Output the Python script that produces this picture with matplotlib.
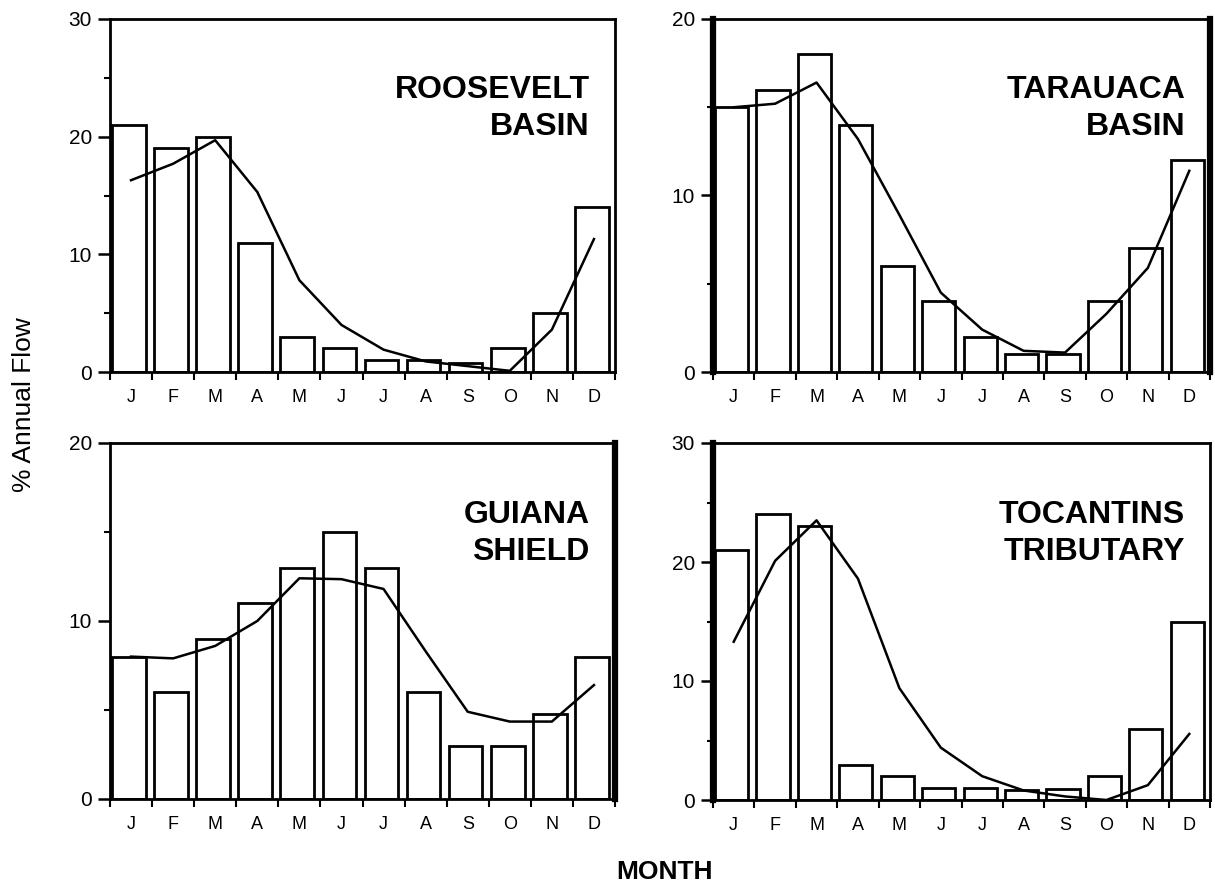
import numpy as np
import matplotlib
matplotlib.use("Agg")
import matplotlib.pyplot as plt

plt.rcParams["font.family"] = ["Liberation Sans", "DejaVu Sans"]

months = ["J", "F", "M", "A", "M", "J", "J", "A", "S", "O", "N", "D"]

# Monthly share of annual flow (%): observed bars and model curve
roosevelt_obs = [21, 19, 20, 11, 3, 2, 1, 1, 0.8, 2, 5, 14]
roosevelt_fit = [16.3, 17.7, 19.7, 15.3, 7.8, 4.0, 1.9, 0.9, 0.5, 0.1, 3.6, 11.3]

tarauaca_obs = [15, 16, 18, 14, 6, 4, 2, 1, 1, 4, 7, 12]
tarauaca_fit = [15.0, 15.2, 16.4, 13.2, 8.9, 4.5, 2.4, 1.2, 1.1, 3.3, 5.9, 11.4]

guiana_obs = [8, 6, 9, 11, 13, 15, 13, 6, 3, 3, 4.8, 8]
guiana_fit = [8.0, 7.9, 8.6, 10.0, 12.4, 12.35, 11.8, 8.3, 4.9, 4.35, 4.35, 6.4]

tocantins_obs = [21, 24, 23, 2.9, 2, 1, 1, 0.85, 0.9, 2, 6, 15]
tocantins_fit = [13.3, 20.1, 23.5, 18.6, 9.4, 4.4, 2.0, 0.8, 0.3, 0.0, 1.25, 5.55]

panels = [
    ("ROOSEVELT\nBASIN", roosevelt_obs, roosevelt_fit, 30, (110, 19, 615, 372)),
    ("TARAUACA\nBASIN", tarauaca_obs, tarauaca_fit, 20, (713, 19, 1210, 372)),
    ("GUIANA\nSHIELD", guiana_obs, guiana_fit, 20, (110, 443, 615, 799)),
    ("TOCANTINS\nTRIBUTARY", tocantins_obs, tocantins_fit, 30, (713, 443, 1210, 800)),
]

W, H = 1215, 883
fig = plt.figure(figsize=(W / 100, H / 100), dpi=100)
fig.patch.set_facecolor("white")

thick_spines = {1: ("left", "right"), 2: ("right",), 3: ("left",)}

for idx, (title, obs, fit, ymax, (x0, y0, x1, y1)) in enumerate(panels):
    ax = fig.add_axes([x0 / W, 1 - y1 / H, (x1 - x0) / W, (y1 - y0) / H])
    x = np.arange(12)
    ax.bar(x - 0.05, obs, width=0.8, facecolor="white", edgecolor="black",
           linewidth=2.0, zorder=2)
    ax.plot(x, fit, color="black", linewidth=1.8, zorder=3)

    ax.set_xlim(-0.5, 11.5)
    ax.set_ylim(0, ymax)

    # month boundaries get tick marks, month centres get the labels
    ax.set_xticks(np.arange(-0.5, 12, 1))
    ax.set_xticklabels([])
    ax.set_xticks(x, minor=True)
    ax.set_xticklabels(months, minor=True, fontsize=13)
    ax.tick_params(axis="x", which="major", direction="out", length=6, width=1.5)
    ax.tick_params(axis="x", which="minor", length=0, pad=12)

    ax.set_yticks(np.arange(0, ymax + 1, 10))
    ax.set_yticks(np.arange(5, ymax, 10), minor=True)
    ax.tick_params(axis="y", which="major", direction="out", length=9, width=1.8,
                   labelsize=15, pad=4)
    ax.tick_params(axis="y", which="minor", direction="out", length=4, width=1.5)

    for name, sp in ax.spines.items():
        sp.set_linewidth(2.0)
    for name in thick_spines.get(idx, ()):
        ax.spines[name].set_linewidth(4.5)

    ax.text(0.95, 0.84, title, transform=ax.transAxes, ha="right", va="top",
            fontsize=23, fontweight="bold", linespacing=1.3, zorder=4)

fig.text(24 / W, 1 - 405 / H, "% Annual Flow", rotation=90, ha="center",
         va="center", fontsize=19)
fig.text(664 / W, 1 - 872 / H, "MONTH", ha="center", va="center",
         fontsize=19, fontweight="bold")

fig.savefig("out.png", dpi=100, facecolor="white")
